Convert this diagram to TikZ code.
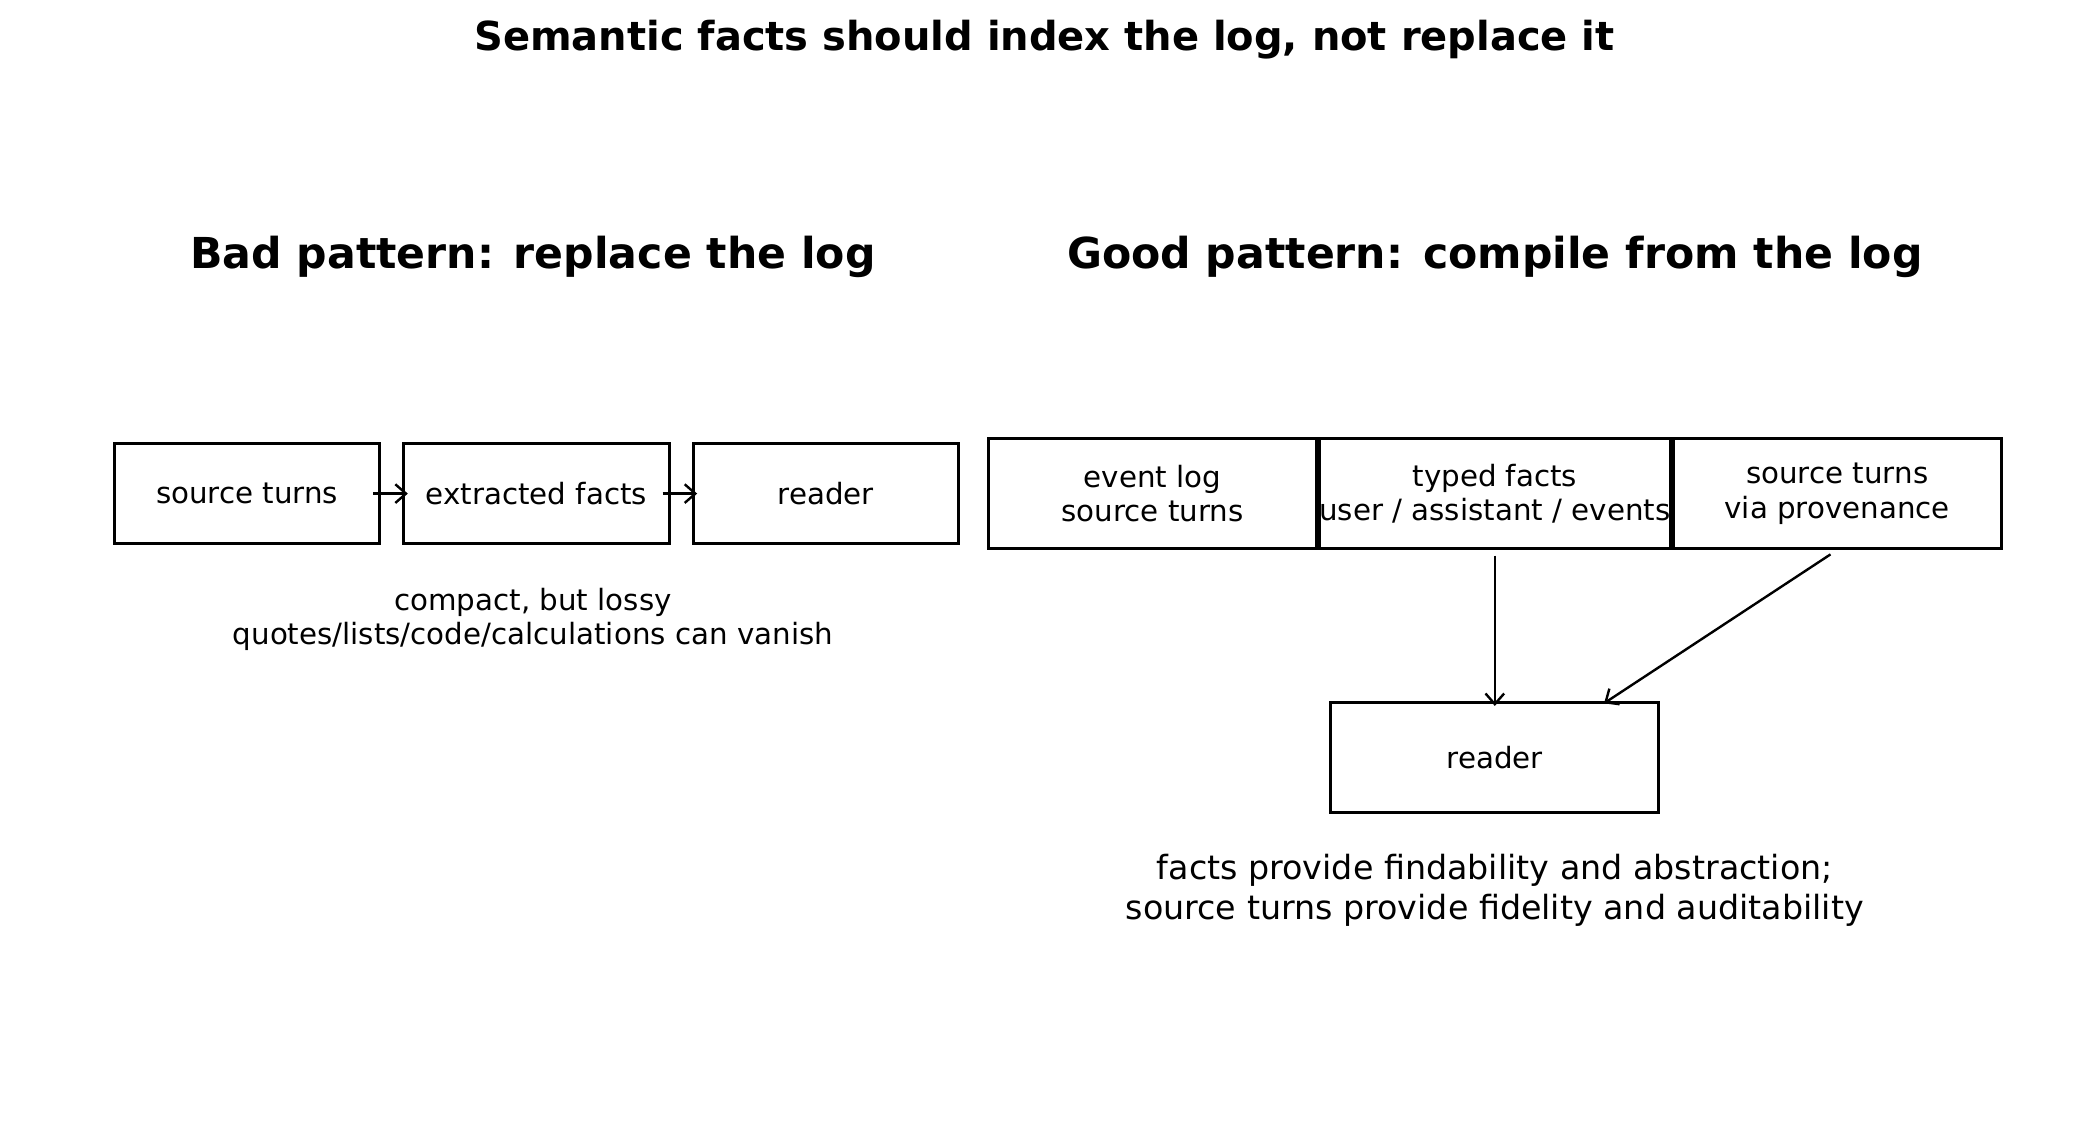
\documentclass[tikz,border=0pt]{standalone}
\usepackage{fontspec}
\setmainfont{DejaVu Sans}
\usetikzlibrary{arrows.meta,positioning}
\tikzset{
  box/.style={draw, line width=1.1pt, minimum width=99.5pt, minimum height=37.5pt, inner sep=0pt, font=\fontsize{11}{13}\selectfont, align=center},
  wbox/.style={box, minimum width=123pt, minimum height=41.5pt},
  flow/.style={-{Straight Barb[length=4pt,width=7pt]}, line width=0.9pt},
  heading/.style={font=\fontsize{16}{19}\selectfont\bfseries},
  note/.style={align=center}
}
\begin{document}
\begin{tikzpicture}[x=0.5pt,y=-0.5pt]
  \useasboundingbox (0,0) rectangle (1568,860);
  % titles
  \node[font=\fontsize{15}{18}\selectfont\bfseries] (title) at (784,30) {Semantic facts should index the log, not replace it};
  \node[heading] (badT) at (400,193) {Bad pattern: replace the log};
  \node[heading] (goodT) at (1122,193) {Good pattern: compile from the log};

  % bad pattern
  \node[box] (src) at (185.5,370.5) {source turns};
  \node[box, right=8pt of src] (ext) {extracted facts};
  \node[box, right=8pt of ext] (rdA) {reader};
  \draw[flow] ([xshift=-3pt]src.east) -- ([xshift=2pt]ext.west);
  \draw[flow] ([xshift=-3pt]ext.east) -- ([xshift=2pt]rdA.west);
  \node[note, font=\fontsize{11}{13}\selectfont] (lossy) at (400,465) {compact, but lossy\\quotes/lists/code/calculations can vanish};

  % good pattern
  \node[wbox] (typed) at (1122,370.5) {typed facts\\user / assistant / events};
  \node[wbox, left=0pt of typed] (evlog) {event log\\source turns};
  \node[wbox, right=0pt of typed] (prov) {source turns\\via provenance};
  \node[wbox] (rdB) at (1122,568.5) {reader};
  \draw[flow] ([yshift=-2pt]typed.south) -- ([yshift=-2pt]rdB.north);
  \draw[flow] ([xshift=-2.5pt,yshift=-1.5pt]prov.south) -- ([xshift=41pt,yshift=-1pt]rdB.north);
  \node[note, font=\fontsize{12.5}{15}\selectfont] (gain) at (1122,668) {facts provide findability and abstraction;\\source turns provide fidelity and auditability};
\end{tikzpicture}
\end{document}
